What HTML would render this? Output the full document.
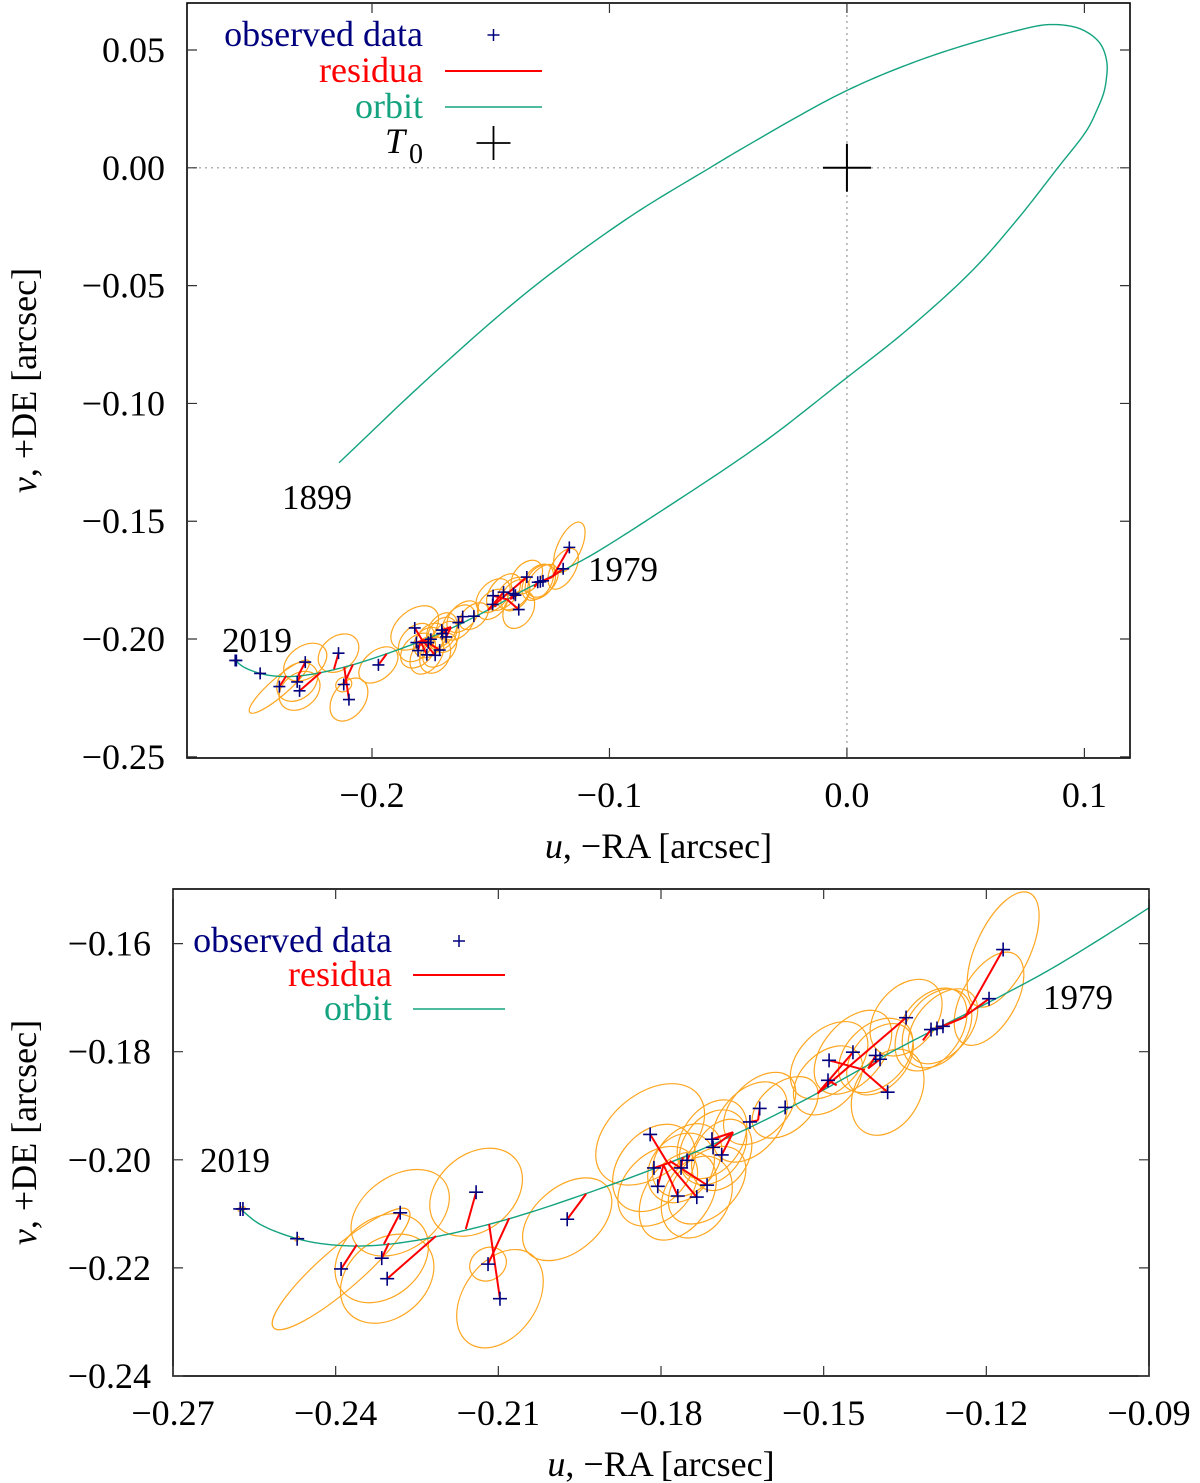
<!DOCTYPE html>
<html><head><meta charset="utf-8"><style>
html,body{margin:0;padding:0;background:#fff}
svg{display:block}
text{font-family:"Liberation Serif",serif}
</style></head><body>
<svg id="chart" width="1200" height="1483" viewBox="0 0 1200 1483" xmlns="http://www.w3.org/2000/svg">
<defs>
<clipPath id="clipTop"><rect x="187" y="3" width="943" height="755"/></clipPath>
<clipPath id="clipBot"><rect x="173" y="889" width="976" height="487"/></clipPath>
</defs>
<g id="top-panel"></g>
<g id="bot-panel"></g>
</svg>
<script>
// orbit curve (arcsec)
const orbitU = [-0.2139,-0.1756,-0.1335,-0.0914,-0.0577,-0.0451,-0.0029,0.0253,0.0531,0.0813,0.0869,0.0926,0.0982,0.1038,0.1074,0.1095,0.1092,0.1081,0.1053,0.1011,0.0888,0.0716,0.0531,0.0253,-0.0029,-0.0354,-0.0775,-0.1064,-0.1175,-0.1359,-0.1544,-0.1728,-0.1931,-0.2101,-0.2245,-0.2337,-0.2410,-0.2471,-0.2540,-0.2576];
const orbitV = [-0.1252,-0.0887,-0.0518,-0.0208,0,0.0076,0.0314,0.0437,0.0531,0.0604,0.0608,0.0604,0.0590,0.0557,0.0515,0.0444,0.0374,0.0317,0.0246,0.0161,0,-0.0221,-0.0433,-0.0688,-0.0913,-0.1167,-0.1452,-0.1637,-0.1698,-0.1792,-0.1894,-0.1982,-0.2060,-0.2115,-0.2148,-0.2159,-0.2157,-0.2146,-0.2119,-0.2091];
// observations
const obsU = [-0.2576,-0.2571,-0.2471,-0.2390,-0.2281,-0.2315,-0.2305,-0.2141,-0.2119,-0.2097,-0.1973,-0.1820,-0.1813,-0.1806,-0.1769,-0.1734,-0.1715,-0.1763,-0.1752,-0.1706,-0.1704,-0.1688,-0.1636,-0.1618,-0.1571,-0.1490,-0.1446,-0.1492,-0.1382,-0.1348,-0.1404,-0.1396,-0.1302,-0.1291,-0.1280,-0.1169,-0.1195];
const obsV = [-0.2091,-0.2091,-0.2146,-0.2202,-0.2098,-0.2182,-0.2220,-0.2060,-0.2193,-0.2257,-0.2110,-0.1953,-0.2015,-0.2049,-0.2067,-0.2069,-0.2047,-0.2015,-0.2001,-0.1962,-0.1977,-0.1991,-0.1930,-0.1905,-0.1903,-0.1816,-0.1801,-0.1853,-0.1875,-0.1737,-0.1807,-0.1814,-0.1759,-0.1757,-0.1753,-0.1611,-0.1702];
// computed positions on orbit (residual ends)
const calcU = [-0.2576,-0.2571,-0.2471,-0.2361,-0.2311,-0.2302,-0.2215,-0.2160,-0.2080,-0.2117,-0.1938,-0.1789,-0.1780,-0.1795,-0.1796,-0.1789,-0.1784,-0.1760,-0.1747,-0.1667,-0.1667,-0.1667,-0.1621,-0.1621,-0.1571,-0.1424,-0.1511,-0.1476,-0.1429,-0.1511,-0.1418,-0.1418,-0.1317,-0.1243,-0.1243,-0.1240,-0.1243];
const calcV = [-0.2091,-0.2091,-0.2146,-0.2157,-0.2156,-0.2154,-0.2141,-0.2128,-0.2108,-0.2119,-0.2063,-0.2004,-0.2004,-0.2008,-0.2008,-0.2004,-0.2002,-0.1995,-0.1991,-0.1949,-0.1949,-0.1949,-0.1927,-0.1927,-0.1903,-0.1834,-0.1877,-0.1862,-0.1834,-0.1877,-0.1831,-0.1831,-0.1779,-0.1737,-0.1737,-0.1737,-0.1737];
// error ellipses: semi-axes (arcsec) and angle (deg)
const errA = [0.0005,0.0005,0.0005,0.0165,0.0100,0.0095,0.0095,0.0095,0.0035,0.0100,0.0095,0.0115,0.0090,0.0085,0.0090,0.0080,0.0085,0.0070,0.0075,0.0080,0.0075,0.0070,0.0085,0.0080,0.0070,0.0085,0.0090,0.0075,0.0085,0.0080,0.0080,0.0075,0.0085,0.0080,0.0080,0.0115,0.0095];
const errB = [0.0003,0.0003,0.0003,0.0038,0.0068,0.0072,0.0072,0.0070,0.0030,0.0068,0.0060,0.0075,0.0065,0.0060,0.0060,0.0060,0.0055,0.0055,0.0055,0.0055,0.0055,0.0050,0.0055,0.0050,0.0045,0.0055,0.0055,0.0050,0.0060,0.0055,0.0055,0.0050,0.0055,0.0055,0.0050,0.0050,0.0050];
const errAng = [40,40,40,41,35,40,40,40,30,55,40,40,50,45,55,60,45,50,50,55,55,60,50,45,40,45,50,45,60,50,45,50,55,55,50,65,60];
// axis ticks
const topXTicks = [-0.2,-0.1,0.0,0.1];
const topXLabels = ["\u22120.2","\u22120.1","0.0","0.1"];
const topYTicks = [0.05,0,-0.05,-0.10,-0.15,-0.20,-0.25];
const topYLabels = ["0.05","0.00","\u22120.05","\u22120.10","\u22120.15","\u22120.20","\u22120.25"];
const botXTicks = [-0.27,-0.24,-0.21,-0.18,-0.15,-0.12,-0.09];
const botXLabels = ["\u22120.27","\u22120.24","\u22120.21","\u22120.18","\u22120.15","\u22120.12","\u22120.09"];
const botYTicks = [-0.16,-0.18,-0.20,-0.22,-0.24];
const botYLabels = ["\u22120.16","\u22120.18","\u22120.20","\u22120.22","\u22120.24"];

const NS="http://www.w3.org/2000/svg";
function mk(parent, tag, attrs, txt){
  const e=document.createElementNS(NS,tag);
  for(const k in attrs) e.setAttribute(k,attrs[k]);
  if(txt!==undefined) e.textContent=txt;
  parent.appendChild(e); return e;
}
// centripetal Catmull-Rom, sampled
function spline(P){
  const n=P.length;
  const ext=[[2*P[0][0]-P[1][0],2*P[0][1]-P[1][1]],...P,[2*P[n-1][0]-P[n-2][0],2*P[n-1][1]-P[n-2][1]]];
  const dist=(a,b)=>Math.max(1e-6,Math.pow(Math.hypot(b[0]-a[0],b[1]-a[1]),0.5));
  const lerp=(a,b,ta,tb,t)=>[(tb-t)/(tb-ta)*a[0]+(t-ta)/(tb-ta)*b[0],(tb-t)/(tb-ta)*a[1]+(t-ta)/(tb-ta)*b[1]];
  let d="M"+P[0][0].toFixed(2)+","+P[0][1].toFixed(2);
  for(let i=1;i<ext.length-2;i++){
    const p0=ext[i-1],p1=ext[i],p2=ext[i+1],p3=ext[i+2];
    const t0=0,t1=t0+dist(p0,p1),t2=t1+dist(p1,p2),t3=t2+dist(p2,p3);
    for(let k=1;k<=16;k++){
      const t=t1+(t2-t1)*k/16;
      const A1=lerp(p0,p1,t0,t1,t),A2=lerp(p1,p2,t1,t2,t),A3=lerp(p2,p3,t2,t3,t);
      const B1=lerp(A1,A2,t0,t2,t),B2=lerp(A2,A3,t1,t3,t);
      const C=lerp(B1,B2,t1,t2,t);
      d+=" L"+C[0].toFixed(2)+","+C[1].toFixed(2);
    }
  }
  return d;
}
const FS=36;
function panel(cfg){
  const g=document.getElementById(cfg.id);
  const X=u=>cfg.x0+(u-cfg.umin)/(cfg.umax-cfg.umin)*(cfg.x1-cfg.x0);
  const Y=v=>cfg.y1-(v-cfg.vmin)/(cfg.vmax-cfg.vmin)*(cfg.y1-cfg.y0);
  const sx=(cfg.x1-cfg.x0)/(cfg.umax-cfg.umin), sy=(cfg.y1-cfg.y0)/(cfg.vmax-cfg.vmin);
  const plot=mk(g,"g",{"clip-path":"url(#"+cfg.clip+")"});
  
  
  if(cfg.zero){
    const zx=mk(plot,"line",{x1:X(0),x2:X(0),y1:cfg.y0,y2:cfg.y1,stroke:"#999","stroke-width":1.2,"stroke-dasharray":"2,4"});
    
    
    const zy=mk(plot,"line",{x1:cfg.x0,x2:cfg.x1,y1:Y(0),y2:Y(0),stroke:"#999","stroke-width":1.2,"stroke-dasharray":"2,4"});
    
    
  }
  for(let i=0;i<obsU.length;i++){
    const el=mk(plot,"ellipse",{cx:X(obsU[i]),cy:Y(obsV[i]),rx:errA[i]*sx,ry:errB[i]*sy,fill:"none",stroke:"#ffa620","stroke-width":1.2,transform:"rotate("+(-errAng[i])+" "+X(obsU[i])+" "+Y(obsV[i])+")"});
    
    
  }
  const pts=orbitU.map((u,i)=>[X(u),Y(orbitV[i])]);
  const orb=mk(plot,"path",{d:spline(pts),fill:"none",stroke:"#14a37f","stroke-width":1.4,"stroke-linejoin":"round"});
  
  
  for(let i=0;i<obsU.length;i++){
    const r=mk(plot,"line",{x1:X(obsU[i]),y1:Y(obsV[i]),x2:X(calcU[i]),y2:Y(calcV[i]),stroke:"#ff0000","stroke-width":2});
    
    
  }
  const s=cfg.ms;
  for(let i=0;i<obsU.length;i++){
    const x=X(obsU[i]),y=Y(obsV[i]);
    const p=mk(plot,"path",{d:`M${x-s},${y}H${x+s}M${x},${y-s}V${y+s}`,stroke:"#00007f","stroke-width":1.6,fill:"none"});
    
    
  }
  if(cfg.t0){
    const x=X(0),y=Y(0);
    const t=mk(g,"path",{d:`M${x-24},${y}H${x+24}M${x},${y-24}V${y+24}`,stroke:"#000","stroke-width":2,fill:"none"});
    
    
  }
  const fr=mk(g,"rect",{x:cfg.x0,y:cfg.y0,width:cfg.x1-cfg.x0,height:cfg.y1-cfg.y0,fill:"none",stroke:"#000","stroke-width":1.6});
  
  
  cfg.xt.forEach((t,i)=>{
    const x=X(t);
    const tk=mk(g,"path",{d:`M${x},${cfg.y1}v-10M${x},${cfg.y0}v10`,stroke:"#333","stroke-width":1.2});
    
    
    const lb=mk(g,"text",{x:x,y:cfg.y1+49,"font-size":FS,"text-anchor":"middle"},cfg.xl[i]);
    
    
  });
  cfg.yt.forEach((t,i)=>{
    const y=Y(t);
    const tk=mk(g,"path",{d:`M${cfg.x0},${y}h10M${cfg.x1},${y}h-10`,stroke:"#333","stroke-width":1.2});
    
    
    const lb=mk(g,"text",{x:cfg.x0-22,y:y+12,"font-size":FS,"text-anchor":"end"},cfg.yl[i]);
    
    
  });
  const xt=mk(g,"text",{x:(cfg.x0+cfg.x1)/2,y:cfg.y1+100,"font-size":FS,"text-anchor":"middle"});
  
  
  mk(xt,"tspan",{"font-style":"italic"},"u");
  mk(xt,"tspan",{},", \u2212RA [arcsec]");
  const cy=(cfg.y0+cfg.y1)/2;
  const yt=mk(g,"text",{x:0,y:0,"font-size":FS,"text-anchor":"middle",transform:`translate(36,${cy}) rotate(-90)`});
  
  
  mk(yt,"tspan",{"font-style":"italic"},"v");
  mk(yt,"tspan",{},", +DE [arcsec]");
  cfg.years.forEach(a=>{
    const t=mk(g,"text",{x:a[0],y:a[1],"font-size":35},a[2]);
    
    
  });
  const L=cfg.leg;
  const items=[["observed data","#00007f","plus"],["residua","#ff0000","line"],["orbit","#14a37f","thin"]];
  const lg=mk(g,"g",{});
  
  
  items.forEach((it,i)=>{
    const y=L.y+i*L.dy;
    const t=mk(lg,"text",{x:L.tx,y:y+11,"font-size":FS,"text-anchor":"end",fill:it[1]},it[0]);
    
    
    if(it[2]==="plus"){
      const m=(L.l1+L.l2)/2;
      mk(lg,"path",{d:`M${m-6},${y}H${m+6}M${m},${y-6}V${y+6}`,stroke:it[1],"stroke-width":1.5});
    } else {
      mk(lg,"line",{x1:L.l1,x2:L.l2,y1:y,y2:y,stroke:it[1],"stroke-width":it[2]==="line"?2:1.4});
    }
  });
  if(cfg.t0){
    const y=L.y+3*L.dy;
    const t=mk(lg,"text",{x:L.tx-18,y:y+10,"font-size":FS,"text-anchor":"end","font-style":"italic"},"T");
    
    
    mk(lg,"text",{x:L.tx,y:y+20,"font-size":28,"text-anchor":"end"},"0");
    const m=(L.l1+L.l2)/2;
    mk(lg,"path",{d:`M${m-17},${y}H${m+17}M${m},${y-17}V${y+17}`,stroke:"#000","stroke-width":1.8});
  }
}
panel({id:"top-panel",clip:"clipTop",x0:187,x1:1130,y0:3,y1:758,umin:-0.2779,umax:0.1192,vmin:-0.2505,vmax:0.06995,
  zero:true,t0:true,ms:6,xt:topXTicks,xl:topXLabels,yt:topYTicks,yl:topYLabels,
  years:[[282,509,"1899"],[588,581,"1979"],[222,652,"2019"]],
  leg:{tx:423,y:35,dy:36,l1:445,l2:542}});
panel({id:"bot-panel",clip:"clipBot",x0:173,x1:1149,y0:889,y1:1376,umin:-0.27,umax:-0.09,vmin:-0.24,vmax:-0.1499,
  zero:false,t0:false,ms:7,xt:botXTicks,xl:botXLabels,yt:botYTicks,yl:botYLabels,
  years:[[200,1172,"2019"],[1043,1009,"1979"]],
  leg:{tx:392,y:941,dy:34,l1:413,l2:505}});
</script>
</body></html>
